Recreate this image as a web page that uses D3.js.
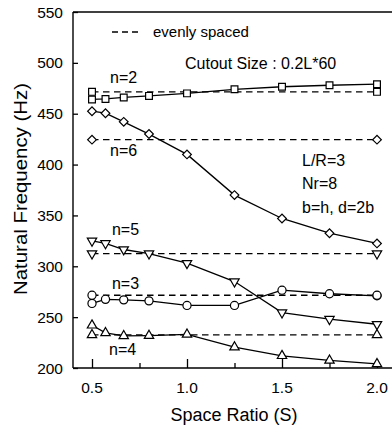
<!DOCTYPE html>
<html>
<head>
<meta charset="utf-8">
<script src="https://cdn.jsdelivr.net/npm/d3@7"></script>
<style>
  html, body { margin: 0; padding: 0; background: #fff; }
  svg { display: block; font-family: "Liberation Sans", Arial, Helvetica, sans-serif; }
</style>
</head>
<body>
<figure style="margin:0"></figure>
<script>
const width = 392,
  height = 431;

// space ratio values along the x axis
const spaceRatio = [0.5, 0.571, 0.667, 0.8, 1.0, 1.25, 1.5, 1.75, 2.0];

// natural frequency (Hz) for each circumferential mode
const modes = ['n=2', 'n=3', 'n=4', 'n=5', 'n=6'];
const freqN2 = [464, 464.5, 466, 467.5, 470, 474, 476.5, 478, 479];
const freqN3 = [263.5, 267.5, 267, 266, 261.5, 261.5, 276.5, 273, 271];
const freqN4 = [242, 234.5, 231.5, 231.8, 233, 220.5, 212, 207.5, 204];
const freqN5 = [325, 322.5, 316.5, 312.5, 303, 285, 254.5, 248, 243];
const freqN6 = [452.5, 450.5, 442, 430, 410, 370, 347, 332.5, 322.5];

// evenly spaced cutouts (constant per mode)
const evenly = [471.5, 271.5, 232.5, 312.5, 424.5];

const xTicks = [0.5, 1.0, 1.5, 2.0],
  xMinorTicks = [0.75, 1.25, 1.75],
  yTicks = [200, 250, 300, 350, 400, 450, 500, 550];

const series = [freqN2, freqN3, freqN4, freqN5, freqN6].map((values, i) => ({
  mode: modes[i],
  even: evenly[i],
  points: values.map((v, j) => ({ s: spaceRatio[j], f: v }))
}));

const x = d3.scaleLinear().domain([0.4, 2.1]).range([73, 396]),
  y = d3.scaleLinear().domain([200, 550]).range([368, 12]);

const svg = d3.select('figure').append('svg')
  .attr('width', width)
  .attr('height', height)
  .attr('viewBox', [0, 0, width, height]);

// marker shapes: square, circle, triangle up, triangle down, diamond
const markers = [
  { type: d3.symbolSquare, size: 46, rotate: 0 },
  { type: d3.symbolCircle, size: 52, rotate: 0 },
  { type: d3.symbolTriangle, size: 38, rotate: 0 },
  { type: d3.symbolTriangle, size: 38, rotate: 180 },
  { type: d3.symbolSquare, size: 38, rotate: 45 }
];

// frame
const frame = svg.append('g')
  .attr('stroke', '#000')
  .attr('stroke-width', 1.4)
  .attr('fill', 'none');
frame.append('line').attr('x1', x.range()[0]).attr('x2', x.range()[1]).attr('y1', y(550)).attr('y2', y(550));
frame.append('line').attr('x1', x.range()[0]).attr('x2', x.range()[1]).attr('y1', y(200)).attr('y2', y(200));
frame.append('line').attr('x1', x.range()[0]).attr('x2', x.range()[0]).attr('y1', y(200)).attr('y2', y(550));

// axes (ticks pointing inward)
const yAxis = svg.append('g')
  .attr('transform', `translate(${x.range()[0]},0)`)
  .call(d3.axisRight(y).tickValues(yTicks).tickSize(5).tickFormat(''));
yAxis.select('.domain').remove();

const xAxis = svg.append('g')
  .attr('transform', `translate(0,${y(200)})`)
  .call(d3.axisTop(x).tickValues(xTicks).tickSize(9).tickFormat(''));
xAxis.select('.domain').remove();

const xMinor = svg.append('g')
  .attr('transform', `translate(0,${y(200)})`)
  .call(d3.axisTop(x).tickValues(xMinorTicks).tickSize(5).tickFormat(''));
xMinor.select('.domain').remove();

svg.selectAll('.tick line').attr('stroke', '#000').attr('stroke-width', 1.3);

// tick labels
svg.append('g')
  .selectAll('text')
  .data(yTicks)
  .join('text')
  .attr('x', x.range()[0] - 10)
  .attr('y', d => y(d) + 5.5)
  .attr('text-anchor', 'end')
  .attr('font-size', 15.5)
  .text(d => d);

svg.append('g')
  .selectAll('text')
  .data(xTicks)
  .join('text')
  .attr('x', d => x(d))
  .attr('y', 393)
  .attr('text-anchor', 'middle')
  .attr('font-size', 15.5)
  .text(d => d.toFixed(1));

// axis titles
svg.append('text')
  .attr('x', 234)
  .attr('y', 421)
  .attr('text-anchor', 'middle')
  .attr('font-size', 18)
  .text('Space Ratio (S)');

// the scanned y title is stretched along its length
svg.append('text')
  .attr('transform', 'translate(27,189) rotate(-90)')
  .attr('text-anchor', 'middle')
  .attr('font-size', 18)
  .attr('textLength', 212)
  .attr('lengthAdjust', 'spacingAndGlyphs')
  .text('Natural Frequency (Hz)');

// evenly spaced reference lines
const evenG = svg.append('g');
series.forEach(d => {
  evenG.append('line')
    .attr('x1', x(spaceRatio[0]))
    .attr('x2', x(spaceRatio[spaceRatio.length - 1]))
    .attr('y1', y(d.even))
    .attr('y2', y(d.even))
    .attr('stroke', '#000')
    .attr('stroke-width', 1.3)
    .attr('stroke-dasharray', '6.5,4.5');
});

// solid curves
const line = d3.line().x(d => x(d.s)).y(d => y(d.f));
svg.append('g')
  .selectAll('path')
  .data(series)
  .join('path')
  .attr('d', d => line(d.points))
  .attr('fill', 'none')
  .attr('stroke', '#000')
  .attr('stroke-width', 1.3);

// markers, plus the two end markers of each evenly spaced line
series.forEach((d, i) => {
  const m = markers[i],
    sym = d3.symbol().type(m.type).size(m.size),
    ends = [spaceRatio[0], spaceRatio[spaceRatio.length - 1]].map(s => ({ s, f: d.even }));
  svg.append('g')
    .selectAll('path')
    .data(d.points.concat(ends))
    .join('path')
    .attr('d', sym)
    .attr('transform', p => `translate(${x(p.s)},${y(p.f)}) rotate(${m.rotate})`)
    .attr('fill', '#fff')
    .attr('stroke', '#000')
    .attr('stroke-width', 1.2);
});

// mode labels
const labelAt = [[0.595, 480], [0.605, 277.5], [0.59, 212.5], [0.605, 330.5], [0.595, 408]];
svg.append('g')
  .selectAll('text')
  .data(modes)
  .join('text')
  .attr('x', (d, i) => x(labelAt[i][0]))
  .attr('y', (d, i) => y(labelAt[i][1]))
  .attr('font-size', 16)
  .text(d => d);

// legend and notes
svg.append('line')
  .attr('x1', 112).attr('x2', 138)
  .attr('y1', 32).attr('y2', 32)
  .attr('stroke', '#000')
  .attr('stroke-width', 1.3)
  .attr('stroke-dasharray', '6,4');
svg.append('text')
  .attr('x', 153).attr('y', 37)
  .attr('font-size', 15)
  .text('evenly spaced');

const notes = svg.append('g').attr('font-size', 16);
notes.append('text').attr('x', 185).attr('y', 69).text('Cutout Size : 0.2L*60');
notes.append('text').attr('x', 302).attr('y', 166).text('L/R=3');
notes.append('text').attr('x', 302).attr('y', 189).text('Nr=8');
notes.append('text').attr('x', 302).attr('y', 213).text('b=h, d=2b');
</script>
</body>
</html>
